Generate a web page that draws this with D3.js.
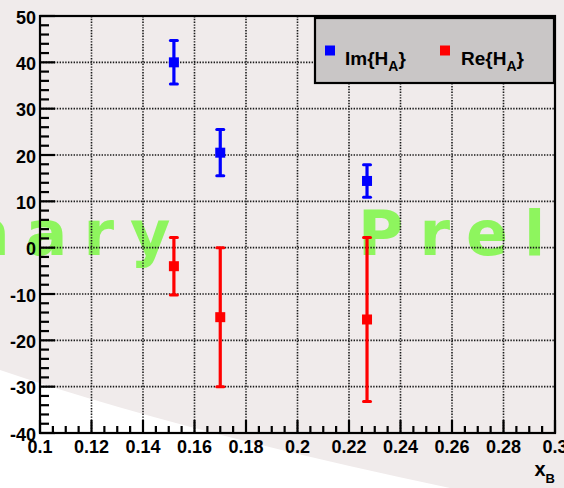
<!DOCTYPE html>
<html>
<head>
<meta charset="utf-8">
<script src="https://cdn.jsdelivr.net/npm/d3@7"></script>
<style>
  html, body { margin: 0; padding: 0; background: #ffffff; }
  svg { display: block; }
  text { font-family: "Liberation Sans", Arial, Helvetica, sans-serif; font-weight: bold; }
  text.banner { font-family: "DejaVu Sans", sans-serif; font-weight: bold; }
</style>
</head>
<body>
<svg id="chart" width="564" height="488"></svg>
<script>
// Measured points in x_B
const xB = [0.152, 0.170, 0.227];

// Im{H_A}: central values and errors
const imValues = [40.0, 20.5, 14.4];
const imErrors = [4.7, 5.0, 3.5];

// Re{H_A}: central values and errors
const reValues = [-4.0, -15.0, -15.5];
const reErrors = [6.2, 15.0, 17.7];

// Axis ticks and labels
const xMajorTicks = [0.10, 0.12, 0.14, 0.16, 0.18, 0.20, 0.22, 0.24, 0.26, 0.28, 0.30];
const xTickLabels = ["0.1", "0.12", "0.14", "0.16", "0.18", "0.2", "0.22", "0.24", "0.26", "0.28", "0.3"];
const yMajorTicks = [-40, -30, -20, -10, 0, 10, 20, 30, 40, 50];
const yTickLabels = ["-40", "-30", "-20", "-10", "0", "10", "20", "30", "40", "50"];

const series = [
  { name: "Im", color: "#0000ff", values: imValues, errors: imErrors },
  { name: "Re", color: "#ff0000", values: reValues, errors: reErrors }
];

const W = 564, H = 488;
const frame = { left: 40, right: 555, top: 16, bottom: 433 };

const svg = d3.select("#chart");

const x = d3.scaleLinear().domain([0.1, 0.3]).range([frame.left, frame.right]);
const y = d3.scaleLinear().domain([-40, 50]).range([frame.bottom, frame.top]);

// Page background: tinted sheet with a white sweep in the lower-left corner
svg.append("rect").attr("width", W).attr("height", H).attr("fill", "#f0ebeb");
svg.append("path")
  .attr("d", "M0,370 Q181,431.5 450,488 L0,488 Z")
  .attr("fill", "#ffffff");

// Scrolling "Preliminary" banner
const banner = svg.append("g").attr("fill", "#8ef55e");
[-393, 358].forEach(x0 => {
  banner.append("text")
    .attr("class", "banner")
    .attr("x", x0).attr("y", 255)
    .attr("font-size", 62)
    .attr("letter-spacing", 16)
    .text("Preliminary");
});

// Dotted grid at every major tick
const grid = svg.append("g")
  .attr("stroke", "#1a1a1a")
  .attr("stroke-width", 1.6)
  .attr("stroke-dasharray", "1.4,1.4");
xMajorTicks.slice(1, -1).forEach(v => {
  grid.append("line")
    .attr("x1", x(v)).attr("x2", x(v))
    .attr("y1", frame.top).attr("y2", frame.bottom);
});
yMajorTicks.slice(1, -1).forEach(v => {
  grid.append("line")
    .attr("x1", frame.left).attr("x2", frame.right)
    .attr("y1", y(v)).attr("y2", y(v));
});

// Tick marks (pointing into the frame)
const ticks = svg.append("g").attr("stroke", "#000").attr("stroke-width", 2.2);
d3.range(-40, 50.001, 2).forEach(v => {
  const major = Math.abs(v % 10) < 1e-9;
  ticks.append("line")
    .attr("x1", frame.left).attr("x2", frame.left + (major ? 15 : 9))
    .attr("y1", y(v)).attr("y2", y(v));
});
d3.range(0, 41).map(i => 0.1 + i * 0.005).forEach((v, i) => {
  const major = i % 4 === 0;
  ticks.append("line")
    .attr("x1", x(v)).attr("x2", x(v))
    .attr("y1", frame.bottom).attr("y2", frame.bottom - (major ? 13 : 7));
});

// Frame
svg.append("rect")
  .attr("x", frame.left).attr("y", frame.top)
  .attr("width", frame.right - frame.left)
  .attr("height", frame.bottom - frame.top)
  .attr("fill", "none").attr("stroke", "#000").attr("stroke-width", 2.2);

// Tick labels
const labels = svg.append("g").attr("fill", "#000").attr("font-size", 18);
yMajorTicks.forEach((v, i) => {
  labels.append("text")
    .attr("x", frame.left - 4).attr("y", y(v) + 7.5)
    .attr("text-anchor", "end")
    .text(yTickLabels[i]);
});
xMajorTicks.forEach((v, i) => {
  labels.append("text")
    .attr("x", x(v)).attr("y", frame.bottom + 20)
    .attr("text-anchor", "middle")
    .text(xTickLabels[i]);
});

// Axis title x_B
const xTitle = svg.append("text").attr("x", frame.right).attr("y", 476)
  .attr("text-anchor", "end").attr("fill", "#000").attr("font-size", 20);
xTitle.append("tspan").text("x");
xTitle.append("tspan").attr("font-size", 13).attr("dy", 7).text("B");

// Points with error bars
series.forEach(s => {
  const g = svg.append("g").attr("stroke", s.color).attr("fill", s.color);
  xB.forEach((xv, i) => {
    const cx = x(xv);
    const lo = y(s.values[i] - s.errors[i]);
    const hi = y(s.values[i] + s.errors[i]);
    g.append("line").attr("x1", cx).attr("x2", cx).attr("y1", lo).attr("y2", hi)
      .attr("stroke-width", 3.2);
    [lo, hi].forEach(yy => {
      g.append("line").attr("x1", cx - 3.5).attr("x2", cx + 3.5).attr("y1", yy).attr("y2", yy)
        .attr("stroke-width", 3).attr("stroke-linecap", "round");
    });
    g.append("rect")
      .attr("x", cx - 5).attr("y", y(s.values[i]) - 5)
      .attr("width", 10).attr("height", 10)
      .attr("stroke", "none");
  });
});

// Legend
const legend = svg.append("g");
legend.append("rect")
  .attr("x", 315).attr("y", 18).attr("width", 239).attr("height", 65)
  .attr("fill", "#c9c6c6").attr("stroke", "#000").attr("stroke-width", 2.2);
const legendItems = [
  { color: series[0].color, label: "Im", mx: 330, tx: 345 },
  { color: series[1].color, label: "Re", mx: 445, tx: 461 }
];
legendItems.forEach(item => {
  legend.append("rect")
    .attr("x", item.mx - 5).attr("y", 45.5).attr("width", 10).attr("height", 10)
    .attr("fill", item.color);
  const t = legend.append("text").attr("x", item.tx).attr("y", 65)
    .attr("fill", "#000").attr("font-size", 19);
  t.append("tspan").text(item.label + "{H");
  t.append("tspan").attr("font-size", 14).attr("dy", 6).text("A");
  t.append("tspan").attr("dy", -6).text("}");
});
</script>
</body>
</html>
